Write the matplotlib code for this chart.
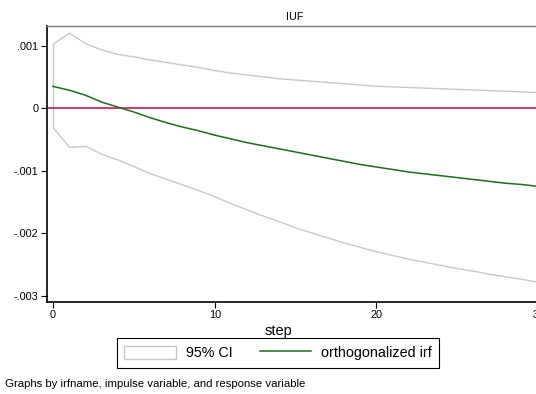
import matplotlib
matplotlib.use('Agg')
import matplotlib.pyplot as plt
from matplotlib.patches import Patch
from matplotlib.lines import Line2D

plt.rcParams['font.family'] = ['Liberation Sans', 'DejaVu Sans']

# step, impulse response and 95% CI
step = list(range(31))
irf = [0.00035, 0.00029, 0.00021, 0.00010, 0.00002, -0.00006, -0.00015, -0.00023,
       -0.00030, -0.00036, -0.00043, -0.00049, -0.00055, -0.00060, -0.00065, -0.00070,
       -0.00075, -0.00080, -0.00085, -0.00090, -0.00094, -0.00098, -0.00102, -0.00105,
       -0.00108, -0.00111, -0.00114, -0.00117, -0.00120, -0.00122, -0.00125]
ci_upper = [0.00104, 0.00121, 0.00104, 0.00094, 0.00087, 0.00083, 0.00078, 0.00074,
            0.00070, 0.00066, 0.00061, 0.00057, 0.00054, 0.00051, 0.00048, 0.00046,
            0.00044, 0.00042, 0.00040, 0.00038, 0.00036, 0.00035, 0.00034, 0.00033,
            0.00032, 0.00031, 0.00030, 0.00029, 0.00028, 0.00027, 0.00026]
ci_lower = [-0.00031, -0.00062, -0.00060, -0.00073, -0.00082, -0.00093, -0.00104, -0.00113,
            -0.00122, -0.00131, -0.00141, -0.00152, -0.00162, -0.00172, -0.00181, -0.00191,
            -0.00199, -0.00207, -0.00215, -0.00222, -0.00229, -0.00235, -0.00241, -0.00246,
            -0.00251, -0.00256, -0.00260, -0.00265, -0.00269, -0.00273, -0.00278]

yticks = [0.001, 0, -0.001, -0.002, -0.003]
ytick_labels = ['.001', '0', '-.001', '-.002', '-.003']
xticks = [0, 10, 20, 30]

W, H = 536, 394
fig = plt.figure(figsize=(W / 100, H / 100), dpi=100)
# plot region runs past the right edge, as in the original
ax = fig.add_axes([46.7 / W, 92.3 / H, 498.6 / W, 275.7 / H])

ci_color = '#c8c8c8'
irf_color = '#1b6e1b'

ax.fill_between(step, ci_lower, ci_upper, facecolor='white', edgecolor=ci_color,
                linewidth=1.0, zorder=1)
ax.plot(step, irf, color=irf_color, linewidth=1.1, zorder=3)
ax.axhline(0, color='#d0003c', linewidth=1.1, zorder=2)

ax.set_xlim(-0.39, 30.44)
ax.set_ylim(-0.003096, 0.001317)

ax.set_yticks(yticks)
ax.set_yticklabels(ytick_labels)
ax.set_xticks(xticks)
ax.tick_params(axis='both', labelsize=7.8, length=4, width=0.8, pad=2, colors='black')

ax.spines['left'].set_linewidth(1.2)
ax.spines['bottom'].set_linewidth(1.2)
ax.spines['top'].set_color('#808080')
ax.spines['top'].set_linewidth(1.0)
ax.spines['right'].set_visible(False)

# axis title, legend and note belong to the whole (wider) graph
fig.text(278 / W, 1 - 331 / H, 'step', ha='center', va='center', fontsize=10.5)

fig.text(295 / W, 1 - 16.5 / H, 'IUF', ha='center', va='center', fontsize=7.8)

handles = [Patch(facecolor='white', edgecolor=ci_color, linewidth=1.0),
           Line2D([0], [0], color=irf_color, linewidth=1.1)]
leg = fig.legend(handles, ['95% CI', 'orthogonalized irf'], loc='center',
                 bbox_to_anchor=(278 / W, 1 - 353 / H), ncol=2, fontsize=10.3,
                 frameon=True, fancybox=False, edgecolor='black', framealpha=1,
                 handlelength=3.6, handleheight=1.1, columnspacing=1.9,
                 borderpad=0.5, handletextpad=0.7)
leg.get_frame().set_linewidth(0.8)

fig.text(5 / W, 1 - 384 / H, 'Graphs by irfname, impulse variable, and response variable',
         ha='left', va='center', fontsize=8.2)

fig.savefig('out.png', dpi=100)
plt.close(fig)
